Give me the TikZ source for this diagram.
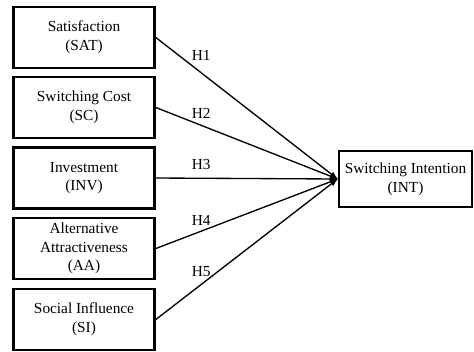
\documentclass[tikz,border=0pt]{standalone}
\usepackage{fontspec}
\setmainfont{Liberation Serif}
\usetikzlibrary{arrows}
\tikzset{
	konstrukt/.style={draw, line width=2pt, align=center, minimum width=105.75pt, minimum height=45.75pt, inner sep=1pt, font=\fontsize{11.5}{14}\selectfont},
	hypo/.style={inner sep=0pt, font=\fontsize{11.5}{14}\selectfont}
}
\begin{document}
\begin{tikzpicture}[x=0.75pt, y=-0.75pt, line width=1pt]
	\useasboundingbox (0,0) rectangle (474,351);
	%%Zielkonstrukt
	\node[konstrukt, minimum width=99.75pt, minimum height=42pt] (int) at (405.5,179) {Switching Intention\\(INT)};
	%%Einflussfaktoren und Hypothesen
	\foreach \nm/\txt/\y/\h/\d in {
			sat/{Satisfaction\\(SAT)}/37.5/H1/8.8pt,
			sc/{Switching Cost\\(SC)}/107.5/H2/4.3pt,
			inv/{Investment\\(INV)}/178/H3/6pt,
			aa/{Alternative\\Attractiveness\\(AA)}/248.5/H4/4pt,
			si/{Social Influence\\(SI)}/319.5/H5/5.3pt}
	{
		\node[konstrukt] (\nm) at (84,\y) {\txt};
		\draw [line width=1pt,>=latex,->] (\nm.east) -- (int.west) node[hypo, pos=0.25, above=\d] {\h};
	}
\end{tikzpicture}
\end{document}
